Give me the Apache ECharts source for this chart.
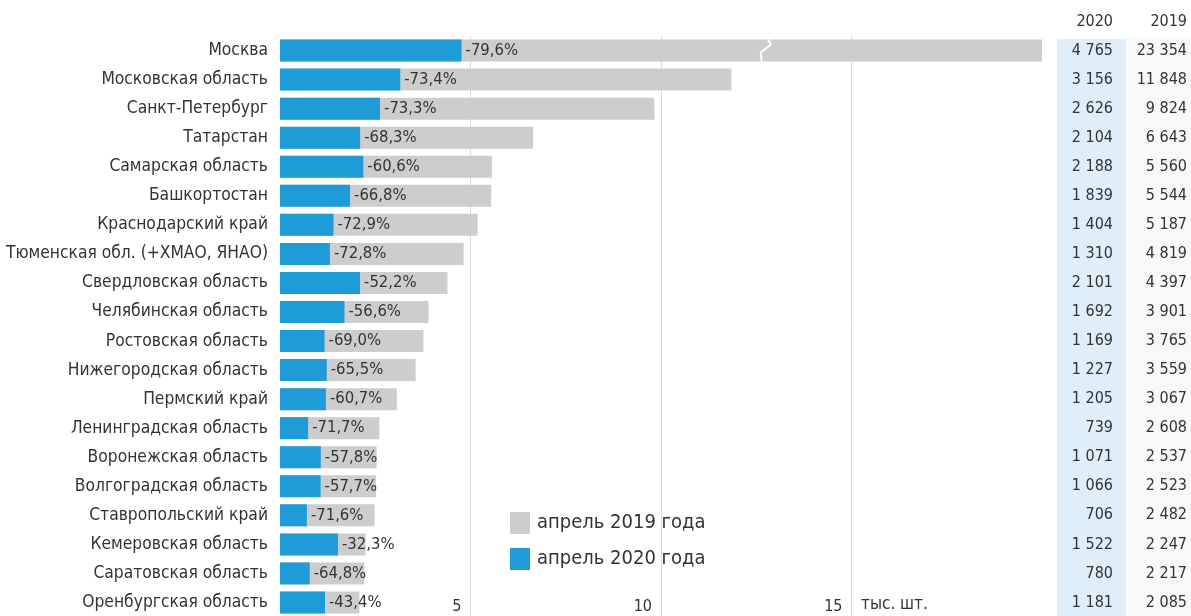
<!DOCTYPE html>
<html>
<head>
<meta charset="utf-8">
<script src="https://cdn.jsdelivr.net/npm/echarts@6/dist/echarts.min.js"></script>
<style>
  html, body { margin: 0; padding: 0; background: #fff; }
  #chart { width: 1191px; height: 616px; }
</style>
</head>
<body>
<div id="chart"></div>
<script>
const regions = ['Москва', 'Московская область', 'Санкт-Петербург', 'Татарстан', 'Самарская область',
  'Башкортостан', 'Краснодарский край', 'Тюменская обл. (+ХМАО, ЯНАО)', 'Свердловская область',
  'Челябинская область', 'Ростовская область', 'Нижегородская область', 'Пермский край',
  'Ленинградская область', 'Воронежская область', 'Волгоградская область', 'Ставропольский край',
  'Кемеровская область', 'Саратовская область', 'Оренбургская область']
const apr2020 = [4765, 3156, 2626, 2104, 2188, 1839, 1404, 1310, 2101, 1692, 1169, 1227, 1205, 739, 1071, 1066, 706, 1522, 780, 1181]
const apr2019 = [23354, 11848, 9824, 6643, 5560, 5544, 5187, 4819, 4397, 3901, 3765, 3559, 3067, 2608, 2537, 2523, 2482, 2247, 2217, 2085]
const changes = ['-79,6%', '-73,4%', '-73,3%', '-68,3%', '-60,6%', '-66,8%', '-72,9%', '-72,8%', '-52,2%', '-56,6%',
  '-69,0%', '-65,5%', '-60,7%', '-71,7%', '-57,8%', '-57,7%', '-71,6%', '-32,3%', '-64,8%', '-43,4%']
const xTicks = [5, 10, 15]
const unitLabel = 'тыс. шт.'
const names = ['апрель 2019 года', 'апрель 2020 года']
const colHeads = ['2020', '2019']

const FONT = "'DejaVu Sans Condensed', 'Liberation Sans Narrow', sans-serif"
const TXT = '#333'
const BLUE = '#1f9bd7'
const GRAY = '#cdcdcd'

// 4 765 style
const fmt = v => String(v).replace(/\B(?=(\d{3})+(?!\d))/g, ' ')

const chart = echarts.init(document.getElementById('chart'))

const options = {
  animation: false,
  textStyle: { fontFamily: FONT },
  grid: { left: 280, right: 149, top: 36, bottom: -1, containLabel: false, outerBoundsMode: 'none' },
  legend: {
    orient: 'vertical',
    left: 505, top: 507,
    itemWidth: 20, itemHeight: 22, itemGap: 14,
    icon: 'rect',
    textStyle: { fontFamily: FONT, fontSize: 20, color: TXT, padding: [0, 0, 0, 2] },
    data: names
  },
  xAxis: {
    type: 'value',
    min: 0, max: 20, interval: 5,
    axisLine: { show: false },
    axisTick: { show: false },
    splitLine: { showMinLine: false, showMaxLine: false, lineStyle: { color: '#dadada', width: 1 } },
    axisLabel: {
      inside: true,
      margin: 2,
      align: 'right',
      padding: [0, 9, 0, 0],
      fontFamily: FONT, fontSize: 16, color: TXT,
      formatter: v => xTicks.includes(v) ? String(v) : ''
    }
  },
  yAxis: [
    {
      type: 'category', inverse: true, data: regions,
      axisLine: { show: false }, axisTick: { show: false },
      axisLabel: { interval: 0, margin: 12, fontFamily: FONT, fontSize: 17.3, color: TXT }
    },
    {
      type: 'category', inverse: true, position: 'right', data: apr2020.map(fmt),
      axisLine: { show: false }, axisTick: { show: false }, splitLine: { show: false },
      axisLabel: { interval: 0, align: 'right', margin: 71, fontFamily: FONT, fontSize: 16, color: TXT }
    },
    {
      type: 'category', inverse: true, position: 'right', data: apr2019.map(fmt),
      axisLine: { show: false }, axisTick: { show: false }, splitLine: { show: false },
      axisLabel: { interval: 0, align: 'right', margin: 145, fontFamily: FONT, fontSize: 16, color: TXT }
    }
  ],
  series: [
    {
      name: names[0], type: 'bar', barWidth: 22, clip: true,
      itemStyle: { color: GRAY },
      data: apr2019.map(v => v / 1000)
    },
    {
      name: names[1], type: 'bar', barWidth: 22, barGap: '-100%',
      itemStyle: { color: BLUE },
      label: {
        show: true, position: 'right', distance: 4,
        fontFamily: FONT, fontSize: 16.5, color: TXT,
        formatter: p => changes[p.dataIndex]
      },
      data: apr2020.map(v => v / 1000)
    }
  ],
  graphic: [
    { id: 'bg2020', type: 'rect', z: -10, shape: { x: 1057, y: 39, width: 69, height: 577 }, style: { fill: '#dfeef8' } },
    { id: 'bg2019', type: 'rect', z: -10, shape: { x: 1126, y: 39, width: 65, height: 577 }, style: { fill: '#f8f8f8' } },
    { id: 'h2020', type: 'text', x: 1113, y: 22, style: { text: colHeads[0], align: 'right', verticalAlign: 'middle', font: '16px ' + FONT, fill: TXT } },
    { id: 'h2019', type: 'text', x: 1187, y: 22, style: { text: colHeads[1], align: 'right', verticalAlign: 'middle', font: '16px ' + FONT, fill: TXT } },
    { id: 'unit', type: 'text', x: 861, y: 605, style: { text: unitLabel, align: 'left', verticalAlign: 'middle', font: '17px ' + FONT, fill: TXT } }
  ]
}
chart.setOption(options)

// zigzag break mark on the clipped Moscow bar
const breakAt = 12.75
const p = chart.convertToPixel({ xAxisIndex: 0, yAxisIndex: 0 }, [breakAt, 0])
chart.setOption({
  graphic: [{
    id: 'brk', type: 'polyline', z: 100,
    shape: { points: [[p[0] + 2, p[1] - 12], [p[0] + 5, p[1] - 6], [p[0] - 5, p[1] + 2], [p[0] - 4, p[1] + 12]] },
    style: { stroke: '#fff', lineWidth: 2, fill: null }
  }]
})
</script>
</body>
</html>
